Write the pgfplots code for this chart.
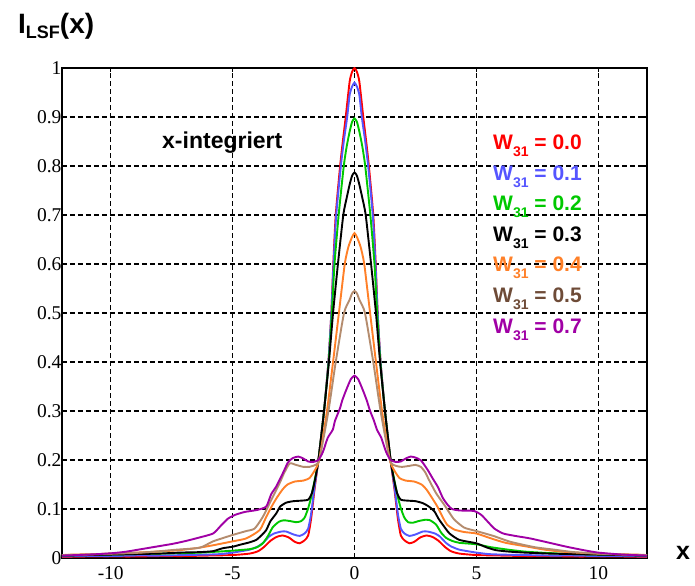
\documentclass[border=0pt]{standalone}
\usepackage{fontspec}
\setmainfont{Liberation Serif}
\newfontfamily\hv{Liberation Sans}
\usepackage{pgfplots}
\pgfplotsset{compat=1.18}
\definecolor{cred}{RGB}{255,0,0}
\definecolor{cblue}{RGB}{85,85,255}
\definecolor{cgreen}{RGB}{0,200,0}
\definecolor{corange}{RGB}{255,128,40}
\definecolor{cbrown}{RGB}{180,140,110}
\definecolor{cbrowntext}{RGB}{110,75,55}
\definecolor{cpurple}{RGB}{160,0,165}
\newcommand\legW[2]{{\hv\bfseries\fontsize{21bp}{21bp}\selectfont\color{#1}W\raisebox{-6.5bp}{\fontsize{14bp}{14bp}\selectfont 31} = #2}}
\begin{document}
\begin{tikzpicture}
\useasboundingbox (-62bp,-28bp) rectangle (633bp,558bp);
\begin{axis}[at={(0,0)}, anchor=south west, scale only axis,
  width=585bp, height=490bp,
  xmin=-12, xmax=12, ymin=0, ymax=1,
  xtick={-10,-5,0,5,10},
  ytick={0,0.1,0.2,0.3,0.4,0.5,0.6,0.7,0.8,0.9,1},
  grid=major,
  major grid style={black, line width=1.4bp, dash pattern=on 5bp off 3bp},
  axis line style={line width=2.4bp},
  tick style={black, line width=1.2bp},
  major tick length=4bp,
  tick align=inside,
  /pgf/number format/assume math mode=true,
  tick label style={font=\fontsize{19.5bp}{19.5bp}\selectfont},
  xticklabel style={yshift=-5bp},
  yticklabel style={xshift=3bp},
  every axis plot/.append style={line width=1.9bp, smooth, tension=0.35},
  clip=true,
]
% W31 = 0.0
\addplot[cred] coordinates {
(-12,0.002)(-11,0.003)(-10,0.003)(-9,0.003)(-8,0.004)(-7,0.004)(-6,0.005)(-5,0.006)(-4.3,0.009)(-3.95,0.014)(-3.7,0.023)(-3.45,0.035)(-3.2,0.043)(-2.95,0.046)(-2.7,0.042)(-2.45,0.033)(-2.25,0.03)(-2.05,0.036)(-1.9,0.046)(-1.78,0.08)(-1.64,0.14)(-1.48,0.2)(-1.25,0.3)(-1.07,0.4)(-0.95,0.5)(-0.87,0.6)(-0.77,0.7)(-0.59,0.8)(-0.48,0.85)(-0.36,0.9)(-0.2,0.972)(-0.1,0.992)
(0,1.0)(0.1,0.992)(0.2,0.972)(0.36,0.9)(0.48,0.85)(0.59,0.8)(0.77,0.7)(0.87,0.6)(0.95,0.5)(1.07,0.4)(1.25,0.3)(1.48,0.2)(1.64,0.14)(1.78,0.08)(1.9,0.046)(2.05,0.036)(2.25,0.03)(2.45,0.033)(2.7,0.042)(2.95,0.046)(3.2,0.043)(3.45,0.035)(3.7,0.023)(3.95,0.014)(4.3,0.009)(5,0.006)(6,0.005)(7,0.004)(8,0.004)(9,0.003)(10,0.003)(11,0.003)(12,0.002)
};
% W31 = 0.1
\addplot[cblue] coordinates {
(-12,0.003)(-11,0.004)(-10,0.004)(-9,0.005)(-8,0.005)(-7,0.006)(-6,0.007)(-5.5,0.008)(-5,0.011)(-4.3,0.017)(-3.95,0.024)(-3.75,0.031)(-3.5,0.044)(-3.3,0.05)(-3.0,0.054)(-2.8,0.054)(-2.5,0.048)(-2.25,0.045)(-2.05,0.05)(-1.9,0.06)(-1.78,0.09)(-1.64,0.145)(-1.48,0.2)(-1.25,0.3)(-1.07,0.4)(-0.95,0.5)(-0.86,0.6)(-0.75,0.7)(-0.56,0.8)(-0.44,0.85)(-0.3,0.9)(-0.2,0.945)(-0.1,0.962)
(0,0.97)(0.1,0.962)(0.2,0.945)(0.3,0.9)(0.44,0.85)(0.56,0.8)(0.75,0.7)(0.86,0.6)(0.95,0.5)(1.07,0.4)(1.25,0.3)(1.48,0.2)(1.64,0.145)(1.78,0.09)(1.9,0.06)(2.05,0.05)(2.25,0.045)(2.5,0.048)(2.8,0.054)(3.0,0.054)(3.3,0.05)(3.5,0.044)(3.75,0.031)(3.95,0.024)(4.3,0.017)(5,0.011)(5.5,0.008)(6,0.007)(7,0.006)(8,0.005)(9,0.005)(10,0.004)(11,0.004)(12,0.003)
};
% W31 = 0.2
\addplot[cgreen] coordinates {
(-12,0.005)(-11,0.006)(-10,0.007)(-9,0.008)(-8,0.009)(-7,0.01)(-6.3,0.011)(-5.6,0.013)(-5,0.015)(-4.3,0.018)(-4.0,0.022)(-3.76,0.03)(-3.55,0.045)(-3.35,0.063)(-3.1,0.074)(-2.9,0.077)(-2.6,0.075)(-2.4,0.073)(-2.2,0.075)(-2.05,0.082)(-1.91,0.1)(-1.8,0.12)(-1.65,0.155)(-1.48,0.2)(-1.25,0.3)(-1.06,0.4)(-0.93,0.5)(-0.82,0.6)(-0.65,0.7)(-0.44,0.8)(-0.32,0.84)(-0.2,0.87)(-0.1,0.89)
(0,0.897)(0.1,0.89)(0.2,0.87)(0.32,0.84)(0.44,0.8)(0.65,0.7)(0.82,0.6)(0.93,0.5)(1.06,0.4)(1.25,0.3)(1.48,0.2)(1.65,0.155)(1.8,0.12)(1.91,0.1)(2.05,0.082)(2.2,0.073)(2.4,0.072)(2.6,0.075)(2.9,0.078)(3.1,0.077)(3.35,0.068)(3.55,0.052)(3.76,0.041)(4.0,0.035)(4.3,0.031)(5,0.028)(5.6,0.022)(6.3,0.017)(7,0.013)(8,0.01)(9,0.008)(10,0.007)(11,0.006)(12,0.005)
};
% W31 = 0.3
\addplot[black] coordinates {
(-12,0.005)(-11,0.006)(-10,0.007)(-9,0.008)(-8,0.009)(-7.2,0.011)(-6.35,0.012)(-5.8,0.014)(-5.4,0.02)(-5,0.023)(-4.7,0.027)(-4.3,0.032)(-4.03,0.037)(-3.8,0.047)(-3.62,0.057)(-3.45,0.075)(-3.21,0.091)(-3.05,0.105)(-2.8,0.113)(-2.5,0.116)(-2.2,0.117)(-1.9,0.119)(-1.75,0.132)(-1.62,0.16)(-1.48,0.2)(-1.25,0.3)(-1.05,0.4)(-0.88,0.5)(-0.68,0.6)(-0.46,0.7)(-0.32,0.735)(-0.2,0.762)(-0.1,0.78)
(0,0.787)(0.1,0.78)(0.2,0.762)(0.32,0.735)(0.46,0.7)(0.68,0.6)(0.88,0.5)(1.05,0.4)(1.25,0.3)(1.48,0.2)(1.62,0.16)(1.75,0.132)(1.9,0.119)(2.2,0.117)(2.5,0.116)(2.8,0.112)(3.05,0.105)(3.28,0.095)(3.45,0.08)(3.62,0.068)(3.9,0.05)(4.3,0.037)(5,0.03)(5.4,0.022)(5.8,0.016)(6.35,0.013)(7,0.011)(8,0.009)(9,0.008)(10,0.007)(11,0.006)(12,0.005)
};
% W31 = 0.4
\addplot[corange] coordinates {
(-12,0.006)(-11.5,0.007)(-10.5,0.008)(-9.5,0.01)(-8.5,0.012)(-7.8,0.014)(-7.2,0.016)(-6.5,0.02)(-5.8,0.026)(-5,0.034)(-4.44,0.04)(-3.89,0.057)(-3.62,0.084)(-3.4,0.105)(-3.2,0.122)(-2.95,0.14)(-2.75,0.15)(-2.45,0.156)(-2.1,0.158)(-1.85,0.163)(-1.64,0.178)(-1.45,0.2)(-1.13,0.3)(-0.88,0.4)(-0.64,0.5)(-0.4,0.6)(-0.25,0.635)(-0.1,0.655)
(0,0.663)(0.1,0.655)(0.25,0.635)(0.4,0.6)(0.64,0.5)(0.88,0.4)(1.13,0.3)(1.45,0.2)(1.64,0.178)(1.85,0.163)(2.1,0.158)(2.45,0.156)(2.75,0.15)(2.95,0.14)(3.15,0.125)(3.4,0.105)(3.6,0.085)(3.8,0.068)(4.1,0.058)(4.5,0.053)(5,0.05)(5.6,0.04)(6.2,0.031)(7,0.024)(7.8,0.017)(8.5,0.013)(9.5,0.01)(10.5,0.008)(11.5,0.007)(12,0.006)
};
% W31 = 0.5
\addplot[cbrown] coordinates {
(-12,0.006)(-11,0.007)(-10,0.009)(-9.1,0.01)(-8.2,0.013)(-7.3,0.017)(-6.35,0.021)(-5.8,0.034)(-5,0.047)(-4.44,0.055)(-4.1,0.06)(-3.76,0.084)(-3.35,0.125)(-3.05,0.155)(-2.9,0.172)(-2.66,0.193)(-2.4,0.19)(-2.1,0.186)(-1.85,0.186)(-1.7,0.188)(-1.45,0.2)(-1.07,0.3)(-0.77,0.4)(-0.43,0.5)(-0.2,0.527)(-0.1,0.54)
(0,0.545)(0.1,0.54)(0.2,0.527)(0.43,0.5)(0.77,0.4)(1.07,0.3)(1.45,0.2)(1.7,0.188)(1.95,0.186)(2.25,0.188)(2.5,0.19)(2.72,0.186)(2.9,0.175)(3.05,0.16)(3.35,0.132)(3.69,0.108)(3.9,0.092)(4.1,0.078)(4.5,0.062)(5,0.055)(5.7,0.045)(6.4,0.033)(7.4,0.022)(8.2,0.017)(9,0.012)(10,0.009)(11,0.007)(12,0.006)
};
% W31 = 0.7
\addplot[cpurple] coordinates {
(-12,0.005)(-11.4,0.006)(-10.5,0.008)(-9.9,0.01)(-9.36,0.013)(-8.4,0.021)(-7.45,0.029)(-6.9,0.035)(-6.35,0.042)(-5.8,0.05)(-5.5,0.065)(-5.2,0.08)(-4.9,0.088)(-4.5,0.094)(-4.0,0.098)(-3.62,0.105)(-3.42,0.13)(-3.21,0.146)(-2.94,0.173)(-2.73,0.195)(-2.53,0.204)(-2.3,0.207)(-2.1,0.203)(-1.9,0.197)(-1.7,0.196)(-1.48,0.2)(-1.3,0.216)(-1.1,0.245)(-0.89,0.262)(-0.8,0.28)(-0.6,0.305)(-0.5,0.322)(-0.34,0.343)(-0.15,0.365)
(0,0.372)(0.15,0.365)(0.34,0.343)(0.5,0.322)(0.64,0.3)(0.8,0.28)(0.92,0.262)(1.1,0.245)(1.3,0.216)(1.48,0.2)(1.7,0.196)(1.9,0.197)(2.1,0.203)(2.3,0.207)(2.5,0.205)(2.73,0.199)(3.0,0.18)(3.2,0.163)(3.42,0.145)(3.63,0.122)(3.83,0.108)(4.0,0.1)(4.3,0.097)(4.9,0.096)(5.2,0.088)(5.45,0.075)(5.74,0.06)(6.1,0.05)(6.6,0.045)(7.2,0.04)(8.0,0.031)(8.7,0.023)(9.4,0.016)(10.0,0.011)(11.0,0.007)(12,0.005)
};
\end{axis}
\node[anchor=base west, inner sep=0] at (-44bp,524bp) {\hv\bfseries\fontsize{28bp}{28bp}\selectfont I\raisebox{-4.5bp}{\fontsize{18bp}{18bp}\selectfont LSF}(x)};
\node[anchor=base west, inner sep=0] at (614bp,-1bp) {\hv\bfseries\fontsize{25bp}{25bp}\selectfont x};
\node[anchor=base west, inner sep=0] at (100bp,409bp) {\hv\bfseries\fontsize{23bp}{23bp}\selectfont x-integriert};
\node[anchor=base west, inner sep=0] at (431bp,408bp) {\legW{cred}{0.0}};
\node[anchor=base west, inner sep=0] at (431bp,377bp) {\legW{cblue}{0.1}};
\node[anchor=base west, inner sep=0] at (431bp,347bp) {\legW{cgreen}{0.2}};
\node[anchor=base west, inner sep=0] at (431bp,316bp) {\legW{black}{0.3}};
\node[anchor=base west, inner sep=0] at (431bp,286bp) {\legW{corange}{0.4}};
\node[anchor=base west, inner sep=0] at (431bp,255bp) {\legW{cbrowntext}{0.5}};
\node[anchor=base west, inner sep=0] at (431bp,224bp) {\legW{cpurple}{0.7}};
\end{tikzpicture}
\end{document}
